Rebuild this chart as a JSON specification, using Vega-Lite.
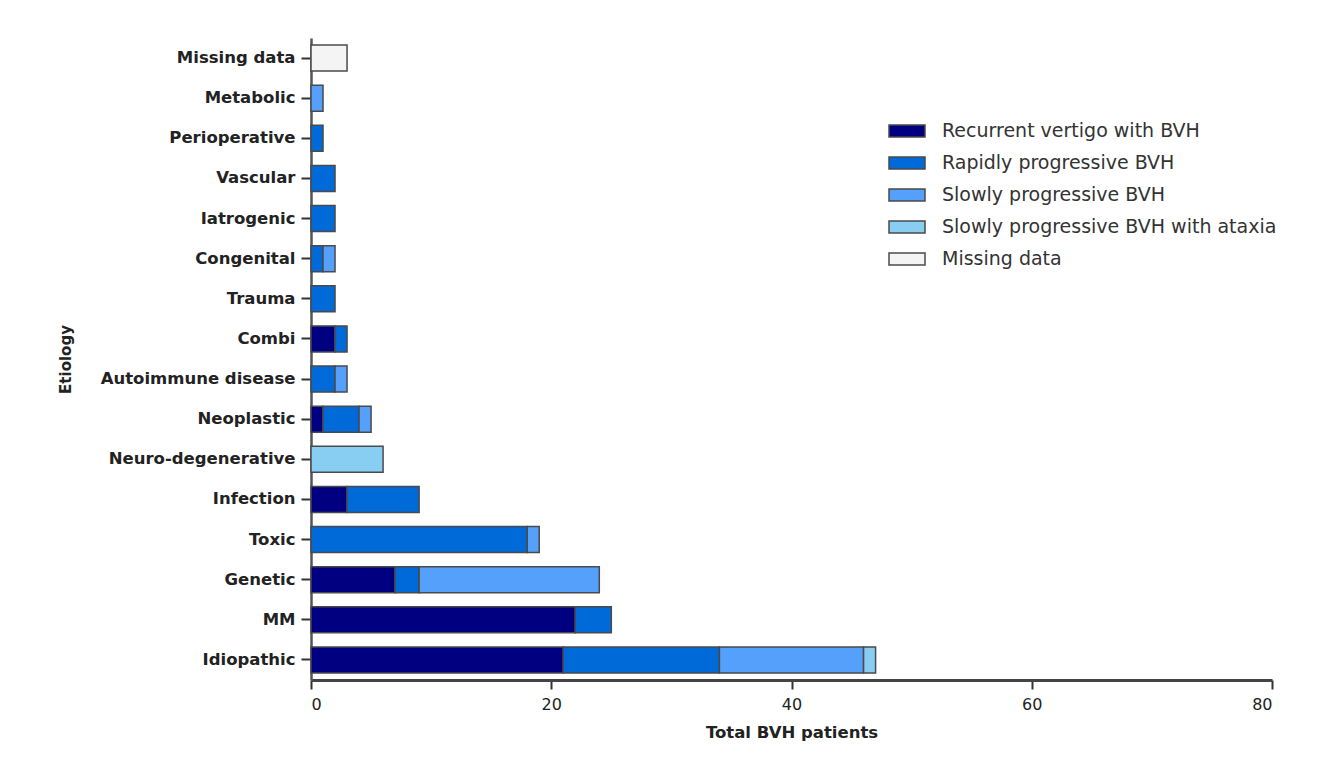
{
  "$schema": "https://vega.github.io/schema/vega-lite/v6.json",
  "width": 961,
  "height": 642,
  "autosize": {"type": "none"},
  "padding": {"left": 311, "top": 38, "right": 47, "bottom": 98},
  "background": "white",
  "config": {"view": {"stroke": null}, "font": "DejaVu Sans"},
  "data": {
    "values": [
      {"etiology": "Missing data", "series": "Missing data", "n": 3, "o": 5},
      {"etiology": "Metabolic", "series": "Slowly progressive BVH", "n": 1, "o": 3},
      {"etiology": "Perioperative", "series": "Rapidly progressive BVH", "n": 1, "o": 2},
      {"etiology": "Vascular", "series": "Rapidly progressive BVH", "n": 2, "o": 2},
      {"etiology": "Iatrogenic", "series": "Rapidly progressive BVH", "n": 2, "o": 2},
      {"etiology": "Congenital", "series": "Rapidly progressive BVH", "n": 1, "o": 2},
      {"etiology": "Congenital", "series": "Slowly progressive BVH", "n": 1, "o": 3},
      {"etiology": "Trauma", "series": "Rapidly progressive BVH", "n": 2, "o": 2},
      {"etiology": "Combi", "series": "Recurrent vertigo with BVH", "n": 2, "o": 1},
      {"etiology": "Combi", "series": "Rapidly progressive BVH", "n": 1, "o": 2},
      {"etiology": "Autoimmune disease", "series": "Rapidly progressive BVH", "n": 2, "o": 2},
      {"etiology": "Autoimmune disease", "series": "Slowly progressive BVH", "n": 1, "o": 3},
      {"etiology": "Neoplastic", "series": "Recurrent vertigo with BVH", "n": 1, "o": 1},
      {"etiology": "Neoplastic", "series": "Rapidly progressive BVH", "n": 3, "o": 2},
      {"etiology": "Neoplastic", "series": "Slowly progressive BVH", "n": 1, "o": 3},
      {"etiology": "Neuro-degenerative", "series": "Slowly progressive BVH with ataxia", "n": 6, "o": 4},
      {"etiology": "Infection", "series": "Recurrent vertigo with BVH", "n": 3, "o": 1},
      {"etiology": "Infection", "series": "Rapidly progressive BVH", "n": 6, "o": 2},
      {"etiology": "Toxic", "series": "Rapidly progressive BVH", "n": 18, "o": 2},
      {"etiology": "Toxic", "series": "Slowly progressive BVH", "n": 1, "o": 3},
      {"etiology": "Genetic", "series": "Recurrent vertigo with BVH", "n": 7, "o": 1},
      {"etiology": "Genetic", "series": "Rapidly progressive BVH", "n": 2, "o": 2},
      {"etiology": "Genetic", "series": "Slowly progressive BVH", "n": 15, "o": 3},
      {"etiology": "MM", "series": "Recurrent vertigo with BVH", "n": 22, "o": 1},
      {"etiology": "MM", "series": "Rapidly progressive BVH", "n": 3, "o": 2},
      {"etiology": "Idiopathic", "series": "Recurrent vertigo with BVH", "n": 21, "o": 1},
      {"etiology": "Idiopathic", "series": "Rapidly progressive BVH", "n": 13, "o": 2},
      {"etiology": "Idiopathic", "series": "Slowly progressive BVH", "n": 12, "o": 3},
      {"etiology": "Idiopathic", "series": "Slowly progressive BVH with ataxia", "n": 1, "o": 4}
    ]
  },
  "mark": {"type": "bar", "stroke": "#4a4a4a", "strokeWidth": 1.5},
  "encoding": {
    "y": {
      "field": "etiology",
      "type": "nominal",
      "sort": ["Missing data", "Metabolic", "Perioperative", "Vascular", "Iatrogenic", "Congenital", "Trauma", "Combi", "Autoimmune disease", "Neoplastic", "Neuro-degenerative", "Infection", "Toxic", "Genetic", "MM", "Idiopathic"],
      "scale": {"paddingInner": 0.35, "paddingOuter": 0.175},
      "axis": {
        "title": "Etiology",
        "titleFont": "DejaVu Sans",
        "titleFontSize": 15,
        "titleFontWeight": "bold",
        "titleColor": "#222",
        "titlePadding": 38,
        "labelFont": "DejaVu Sans",
        "labelFontSize": 16.5,
        "labelFontWeight": "bold",
        "labelColor": "#222",
        "labelPadding": 6,
        "labelLimit": 300,
        "tickSize": 10,
        "tickColor": "#333",
        "tickWidth": 2,
        "domainColor": "#555",
        "domainWidth": 2.5
      }
    },
    "x": {
      "field": "n",
      "type": "quantitative",
      "stack": "zero",
      "scale": {"domain": [0, 80]},
      "axis": {
        "title": "Total BVH patients",
        "values": [0, 20, 40, 60, 80],
        "grid": false,
        "titleFont": "DejaVu Sans",
        "titleFontSize": 16.5,
        "titleFontWeight": "bold",
        "titleColor": "#222",
        "titlePadding": 12,
        "labelFont": "DejaVu Sans",
        "labelFontSize": 16,
        "labelColor": "#222",
        "labelPadding": 7,
        "tickSize": 9,
        "tickColor": "#333",
        "tickWidth": 2,
        "domainColor": "#444",
        "domainWidth": 3
      }
    },
    "order": {"field": "o", "type": "quantitative"},
    "color": {
      "field": "series",
      "type": "nominal",
      "scale": {
        "domain": ["Recurrent vertigo with BVH", "Rapidly progressive BVH", "Slowly progressive BVH", "Slowly progressive BVH with ataxia", "Missing data"],
        "range": ["#000080", "#006ad8", "#55a0fa", "#88cdf2", "#f4f4f4"]
      },
      "legend": {
        "title": null,
        "orient": "none",
        "legendX": 577,
        "legendY": 74,
        "symbolType": "M-1,-0.33H1V0.33H-1Z",
        "symbolSize": 1296,
        "symbolStrokeColor": "#4a4a4a",
        "symbolStrokeWidth": 1.5,
        "symbolOpacity": 1,
        "labelFont": "DejaVu Sans",
        "labelFontSize": 19,
        "labelColor": "#333",
        "labelOffset": 16,
        "labelLimit": 400,
        "rowPadding": 3
      }
    }
  }
}
